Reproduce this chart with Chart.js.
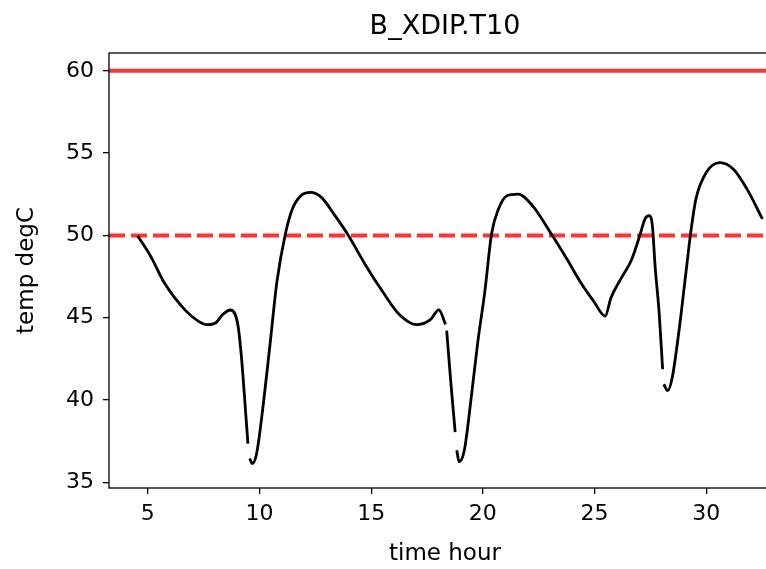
<!DOCTYPE html>
<html>
<head>
<meta charset="utf-8">
<script src="https://cdn.jsdelivr.net/npm/chart.js@4.4.1/dist/chart.umd.min.js"></script>
<style>
  html, body { margin: 0; padding: 0; background: #fff; overflow: hidden; }
  #wrap { width: 781px; height: 569px; position: relative; }
</style>
</head>
<body>
<div id="wrap"><canvas id="chart"></canvas></div>
<script>
// readings of the plot, null marks a break in the trace
const timeHour = [
  4.54, 5.14, 5.75, 6.66, 7.27, 7.65, 8.03, 8.34, 8.70, 9.03, 9.18, 9.33, 9.48,
  9.52,
  9.56, 9.68, 9.87, 10.17, 10.48, 10.78, 11.16, 11.47, 11.85, 12.28, 12.77, 13.38,
  13.98, 14.75, 15.51, 16.27, 17.04, 17.65, 18.03, 18.33,
  18.35,
  18.38, 18.56, 18.76,
  18.80,
  18.83, 18.94, 19.17, 19.48, 19.78, 20.09, 20.39, 20.70, 21.08, 21.58, 22.22,
  23.06, 23.75, 24.36, 24.97, 25.48, 25.73, 26.19, 26.65, 27.03, 27.26, 27.44,
  27.59, 27.71, 27.90, 28.05,
  28.07,
  28.10, 28.28, 28.48, 28.78, 29.08, 29.31, 29.54, 30.00, 30.62, 31.22, 31.83, 32.52
];
const tempDegC = [
  49.98, 48.70, 47.09, 45.48, 44.78, 44.58, 44.68, 45.18, 45.47, 44.58, 42.77, 40.16, 37.35,
  null,
  36.45, 36.14, 36.75, 39.76, 43.50, 47.20, 50.10, 51.60, 52.41, 52.61, 52.31, 51.20,
  50.00, 48.19, 46.59, 45.18, 44.58, 44.88, 45.48, 44.60,
  null,
  44.22, 41.17, 38.05,
  null,
  36.95, 36.25, 36.95, 40.16, 43.60, 46.60, 50.10, 51.60, 52.41, 52.51, 51.81,
  50.10, 48.60, 47.19, 45.99, 45.10, 46.19, 47.39, 48.49, 50.00, 51.00, 51.20,
  50.60, 48.19, 45.18, 41.87,
  null,
  40.96, 40.57, 41.37, 44.18, 47.59, 50.20, 52.21, 53.82, 54.42, 54.02, 52.81, 51.00
];

const limitHigh = 60;
const limitLow = 50;

const xLimits = [3.26, 33.35];
const yLimits = [34.66, 61.08];
const xTicks = [5, 10, 15, 20, 25, 30];
const yTicks = [35, 40, 45, 50, 55, 60];

const chartTitle = 'B_XDIP.T10';
const xLabel = 'time hour';
const yLabel = 'temp degC';

const FONT = "'DejaVu Sans', sans-serif";

const titleAndFrame = {
  id: 'titleAndFrame',
  afterDraw(chart) {
    const { ctx, chartArea: a } = chart;
    ctx.save();
    ctx.strokeStyle = '#000';
    ctx.lineWidth = 1.3;
    ctx.strokeRect(a.left, a.top, a.right - a.left, a.bottom - a.top);
    ctx.fillStyle = '#000';
    ctx.font = '27px ' + FONT;
    ctx.textAlign = 'center';
    ctx.textBaseline = 'middle';
    ctx.fillText(chartTitle, (a.left + a.right) / 2, 27);
    ctx.restore();
  }
};

const lineAt = v => xLimits.map(x => ({ x, y: v }));

new Chart(document.getElementById('chart'), {
  type: 'line',
  data: {
    datasets: [
      {
        label: 'temp',
        data: timeHour.map((t, i) => ({ x: t, y: tempDegC[i] })),
        borderColor: '#000',
        borderWidth: 2.8,
        pointRadius: 0,
        cubicInterpolationMode: 'monotone',
        spanGaps: false,
        order: 1,
      },
      {
        label: 'high',
        data: lineAt(limitHigh),
        borderColor: 'rgba(255,0,0,0.8)',
        borderWidth: 4,
        pointRadius: 0,
        order: 2,
      },
      {
        label: 'low',
        data: lineAt(limitLow),
        borderColor: 'rgba(255,0,0,0.8)',
        borderWidth: 4,
        borderDash: [16, 6],
        pointRadius: 0,
        order: 3,
      },
    ],
  },
  options: {
    responsive: true,
    maintainAspectRatio: false,
    animation: false,
    layout: { padding: { top: 53, right: 0, left: 0, bottom: 0 } },
    plugins: {
      legend: { display: false },
      tooltip: { enabled: false },
      title: { display: false },
    },
    scales: {
      x: {
        type: 'linear',
        min: xLimits[0], max: xLimits[1],
        afterBuildTicks: s => { s.ticks = xTicks.map(v => ({ value: v })); },
        afterFit: s => { s.height = 81; },
        ticks: { font: { size: 22, family: FONT }, color: '#000', padding: 7, maxRotation: 0 },
        grid: { drawOnChartArea: false, drawTicks: true, tickLength: 6, color: '#000', lineWidth: 1.3 },
        border: { display: false },
        title: { display: true, text: xLabel, font: { size: 23, family: FONT }, color: '#000', padding: { top: 0, bottom: 1 } },
      },
      y: {
        type: 'linear',
        min: yLimits[0], max: yLimits[1],
        afterBuildTicks: s => { s.ticks = yTicks.map(v => ({ value: v })); },
        afterFit: s => { s.width = 109; },
        ticks: { font: { size: 22, family: FONT }, color: '#000', padding: 9 },
        grid: { drawOnChartArea: false, drawTicks: true, tickLength: 6, color: '#000', lineWidth: 1.3 },
        border: { display: false },
        title: { display: true, text: yLabel, font: { size: 23, family: FONT }, color: '#000', padding: { top: 13, bottom: 0 } },
      },
    },
  },
  plugins: [titleAndFrame],
});
</script>
</body>
</html>
